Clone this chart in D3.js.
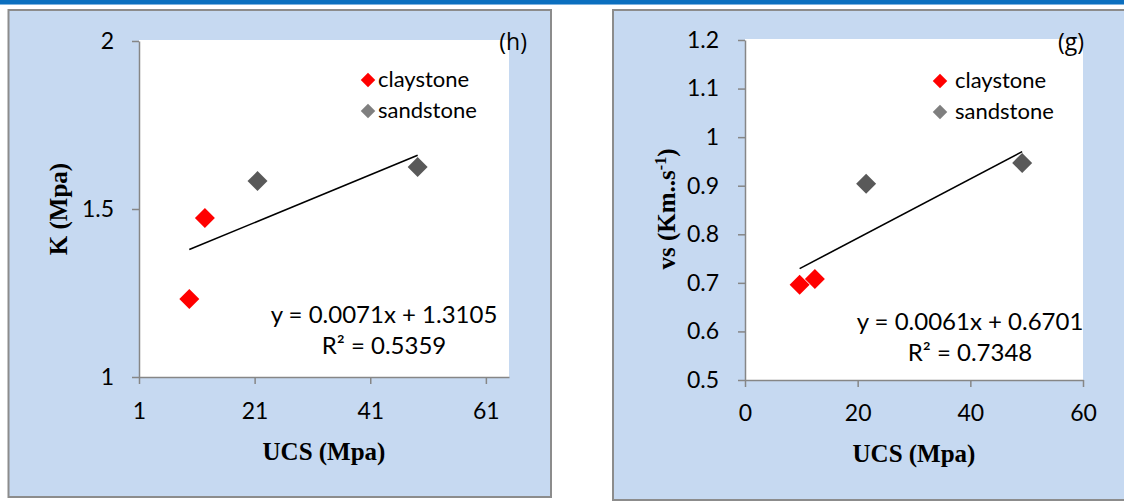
<!DOCTYPE html>
<html>
<head>
<meta charset="utf-8">
<script src="https://cdn.jsdelivr.net/npm/d3@7"></script>
<style>
  body { margin: 0; background: #fff; }
  svg { display: block; }
  .tick line, .domain { stroke: #868686; stroke-width: 1.5; }
</style>
</head>
<body>
<svg id="chart" width="1124" height="501"></svg>
<script>
// données
const ucsClay = [9.7, 12.4];
const ucsSand = [21.5, 49.2];
const kClay = [1.232, 1.473];
const kSand = [1.583, 1.625];
const vsClay = [0.696, 0.708];
const vsSand = [0.904, 0.947];

const kTicks = [1, 1.5, 2];
const kUcsTicks = [1, 21, 41, 61];
const vsTicks = [0.5, 0.6, 0.7, 0.8, 0.9, 1, 1.1, 1.2];
const vsUcsTicks = [0, 20, 40, 60];

const kFit = { slope: 0.0071, intercept: 1.3105, eq: "y = 0.0071x + 1.3105", r2: "0.5359" };
const vsFit = { slope: 0.0061, intercept: 0.6701, eq: "y = 0.0061x + 0.6701", r2: "0.7348" };

const seriesNames = ["claystone", "sandstone"];
const seriesColors = ["#ff0000", "#595959"];
const legendColors = ["#ff0000", "#7f7f7f"];

const svg = d3.select("#chart");

// bandeau bleu en haut
svg.append("rect").attr("x", 0).attr("y", 0).attr("width", 1124).attr("height", 4).attr("fill", "#0b6fbf");
svg.append("rect").attr("x", 0).attr("y", 4).attr("width", 1124).attr("height", 1).attr("fill", "#7fb3df");

function drawPanel(cfg) {
    // cadre bleu clair
    svg.append("rect")
        .attr("x", cfg.box[0]).attr("y", cfg.box[1])
        .attr("width", cfg.box[2]).attr("height", cfg.box[3])
        .attr("fill", "#c6d9f1").attr("stroke", "#8c8c8c").attr("stroke-width", 2);

    const x = d3.scaleLinear().domain(cfg.xDomain).range(cfg.xRange);
    const y = d3.scaleLinear().domain(cfg.yDomain).range(cfg.yRange);

    // zone de tracé blanche
    svg.append("rect")
        .attr("x", cfg.xRange[0]).attr("y", cfg.yRange[1] - 1)
        .attr("width", cfg.xRange[1] - cfg.xRange[0])
        .attr("height", cfg.yRange[0] - cfg.yRange[1] + 1)
        .attr("fill", "#fff");

    svg.append("g")
        .attr("transform", `translate(0,${cfg.yRange[0]})`)
        .call(d3.axisBottom(x).tickValues(cfg.xTicks).tickSize(7).tickSizeOuter(0).tickPadding(cfg.xPad))
        .attr("font-size", 23).attr("font-family", "Lato, sans-serif")
        .selectAll("text").attr("fill", "#000");

    svg.append("g")
        .attr("transform", `translate(${cfg.xRange[0]},0)`)
        .call(d3.axisLeft(y).tickValues(cfg.yTicks).tickSize(7).tickSizeOuter(0).tickPadding(cfg.yPad)
            .tickFormat(d => String(+d.toFixed(2))))
        .attr("font-size", 23).attr("font-family", "Lato, sans-serif")
        .selectAll("text").attr("fill", "#000");

    // droite de régression
    const x0 = d3.min(cfg.xs.flat()), x1 = d3.max(cfg.xs.flat());
    svg.append("line")
        .attr("x1", x(x0)).attr("y1", y(cfg.fit.slope * x0 + cfg.fit.intercept))
        .attr("x2", x(x1)).attr("y2", y(cfg.fit.slope * x1 + cfg.fit.intercept))
        .attr("stroke", "#000").attr("stroke-width", 1.6);

    // points (losanges)
    const diamond = d3.symbol().type(d3.symbolSquare).size(200);
    cfg.xs.forEach((xs, i) => {
        svg.append("g").selectAll("path")
            .data(xs.map((v, j) => [v, cfg.ys[i][j]]))
            .join("path")
            .attr("d", diamond)
            .attr("transform", d => `translate(${x(d[0])},${y(d[1])}) rotate(45)`)
            .attr("fill", seriesColors[i]);
    });

    // légende
    const legendDiamond = d3.symbol().type(d3.symbolSquare).size(105);
    seriesNames.forEach((name, i) => {
        const ly = cfg.legend[1] + i * 31;
        svg.append("path")
            .attr("d", legendDiamond)
            .attr("transform", `translate(${cfg.legend[0]},${ly}) rotate(45)`)
            .attr("fill", legendColors[i]);
        svg.append("text")
            .attr("x", cfg.legend[0] + cfg.legendGap).attr("y", ly + 7)
            .attr("font-family", "Lato, sans-serif").attr("font-size", 22)
            .text(name);
    });

    // équation
    const eq = svg.append("text")
        .attr("font-family", "Lato, sans-serif").attr("font-size", 24)
        .attr("text-anchor", "middle");
    eq.append("tspan").attr("x", cfg.eqPos[0]).attr("y", cfg.eqPos[1]).text(cfg.fit.eq);
    eq.append("tspan").attr("x", cfg.eqPos[0]).attr("y", cfg.eqPos[1] + 31).text(`R² = ${cfg.fit.r2}`);

    // étiquette (h)/(g)
    svg.append("text")
        .attr("x", cfg.tagPos[0]).attr("y", cfg.tagPos[1])
        .attr("text-anchor", "end")
        .attr("font-family", "'Open Sans', sans-serif").attr("font-size", 23)
        .text(cfg.tag);

    // titres des axes
    svg.append("text")
        .attr("x", cfg.xTitlePos[0]).attr("y", cfg.xTitlePos[1])
        .attr("text-anchor", "middle")
        .attr("font-family", "'Liberation Serif', 'Times New Roman', serif")
        .attr("font-weight", "bold").attr("font-size", 25)
        .text("UCS (Mpa)");

    const yt = svg.append("text")
        .attr("transform", `translate(${cfg.yTitlePos[0]},${cfg.yTitlePos[1]}) rotate(-90)`)
        .attr("text-anchor", "middle")
        .attr("font-family", "'Liberation Serif', 'Times New Roman', serif")
        .attr("font-weight", "bold").attr("font-size", 25);
    cfg.yTitle.forEach(part => {
        const t = yt.append("tspan").text(part.text);
        if (part.sup) t.attr("font-size", 16).attr("dy", -9);
        if (part.after) t.attr("dy", 9);
    });
}

drawPanel({
    box: [8.5, 10, 542.5, 487],
    xDomain: [1, 65], xRange: [139, 509],
    yDomain: [1, 2], yRange: [377, 41],
    xTicks: kUcsTicks, yTicks: kTicks, xPad: 19, yPad: 18,
    xs: [ucsClay, ucsSand], ys: [kClay, kSand],
    fit: kFit,
    legend: [368, 80], legendGap: 10,
    eqPos: [384, 323],
    tag: "(h)", tagPos: [527, 50],
    xTitlePos: [324, 460],
    yTitlePos: [67, 209],
    yTitle: [{ text: "K (Mpa)" }]
});

drawPanel({
    box: [613, 10, 520, 490],
    xDomain: [0, 60], xRange: [745, 1083],
    yDomain: [0.5, 1.2], yRange: [380, 40],
    xTicks: vsUcsTicks, yTicks: vsTicks, xPad: 18, yPad: 19,
    xs: [ucsClay, ucsSand], ys: [vsClay, vsSand],
    fit: vsFit,
    legend: [940, 81], legendGap: 15,
    eqPos: [970, 330],
    tag: "(g)", tagPos: [1084, 50],
    xTitlePos: [914, 462],
    yTitlePos: [675, 209],
    yTitle: [{ text: "vs (Km..s" }, { text: "-1", sup: true }, { text: ")", after: true }]
});
</script>
</body>
</html>
